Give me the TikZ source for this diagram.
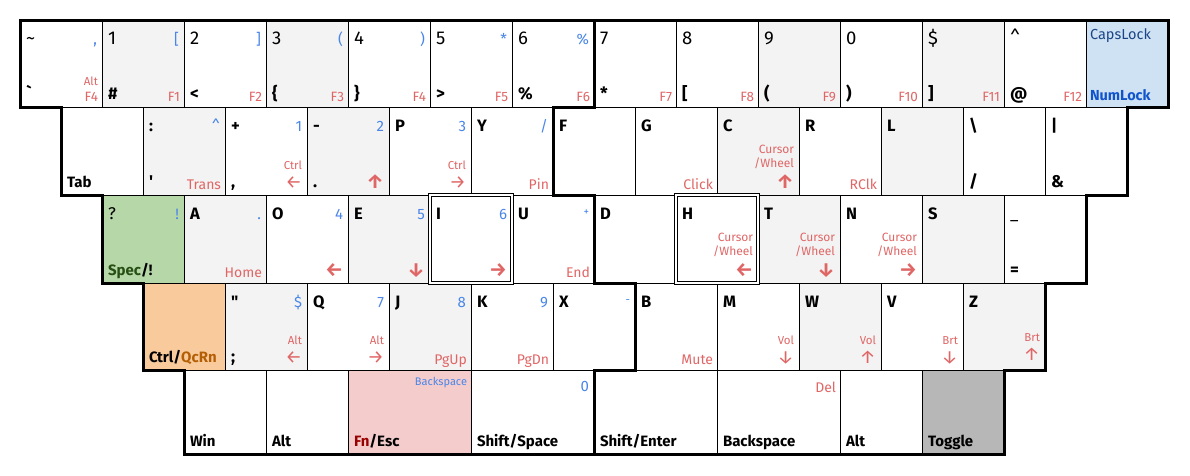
\documentclass[tikz,border=0pt]{standalone}
\usepackage{fontspec}
\setmainfont{Fira Sans}
\usetikzlibrary{calc}
\definecolor{kgray}{HTML}{F3F3F3}
\definecolor{kblue}{HTML}{4A86E8}
\definecolor{kred}{HTML}{E06666}
\definecolor{kcapsfill}{HTML}{CFE2F3}
\definecolor{kcaps}{HTML}{1C4587}
\definecolor{knum}{HTML}{1155CC}
\definecolor{kgreen}{HTML}{B6D7A8}
\definecolor{kspec}{HTML}{274E13}
\definecolor{korange}{HTML}{F9CB9C}
\definecolor{kqc}{HTML}{B45F06}
\definecolor{kpink}{HTML}{F4CCCC}
\definecolor{kfn}{HTML}{990000}
\definecolor{ktog}{HTML}{B7B7B7}
\newcommand\kfs[1]{\fontsize{#1}{#1}\selectfont}
\tikzset{
  key/.style={draw=black,line width=1pt,anchor=north west,outer sep=0pt,inner sep=0pt},
  gk/.style={fill=kgray},
  lbl/.style={inner sep=0pt,outer sep=0pt},
  num/.style={font=\kfs{18.5}},
  let/.style={font=\bfseries\kfs{16.5}},
  sym/.style={font=\bfseries\kfs{17}},
  sec/.style={text=kblue,font=\kfs{15}},
  secs/.style={text=kblue,font=\kfs{11}},
  fk/.style={text=kred,font=\kfs{13.5}},
  wd/.style={text=kred,font=\kfs{14}},
  sm/.style={text=kred,font=\kfs{11.5}},
  cw/.style={text=kred,font=\kfs{12}},
  arr/.style={text=kred,font=\bfseries\kfs{19.5}},
  arrt/.style={text=kred,font=\kfs{18.5}},
  bot/.style={font=\bfseries\kfs{15}},
  outline/.style={draw=black,line width=3pt,line join=miter},
  homing/.style={draw=black,line width=1pt,double=white,double distance=2.5pt}
}
\newcommand\kK[6]{\node[key,#6,minimum width=#4pt,minimum height=#5pt] (#1) at (#2,#3) {};}
\newcommand\kTL[3][let]{\node[lbl,anchor=base west,#1] (#2tl) at ($(#2.north west)+(6,24)$) {#3};}
\newcommand\kTR[3][sec]{\node[lbl,anchor=base east,#1] (#2tr) at ($(#2.north east)+(-5,24)$) {#3};}
\newcommand\kBL[3][bot]{\node[lbl,anchor=base west,#1] (#2bl) at ($(#2.south west)+(6,-8)$) {#3};}
\newcommand\kBR[3][wd]{\node[lbl,anchor=base east,#1] (#2br) at ($(#2.south east)+(-4,-6)$) {#3};}
\newcommand\kMR[3][sm]{\node[lbl,anchor=base east,#1] (#2mr) at ($(#2.south east)+(-5,-26)$) {#3};}
\newcommand\kAR[3][arr]{\node[lbl,anchor=base east,#1] (#2ar) at ($(#2.south east)+(-5,-7)$) {#3};}
\newcommand\kCW[1]{\node[lbl,anchor=base east,cw] (#1cwa) at ($(#1.south east)+(-5,-42)$) {Cursor};
  \node[lbl,anchor=base east,cw] (#1cwb) at ($(#1.south east)+(-5,-28)$) {/Wheel};}
\begin{document}
\begin{tikzpicture}[x=1pt,y=-1pt]
\useasboundingbox (0,0) rectangle (1190,475);
% ---------- row 1
\kK{a1}{20}{20}{82}{87}{}
\kK{a2}{102}{20}{82}{87}{gk}
\kK{a3}{184}{20}{82}{87}{}
\kK{a4}{266}{20}{82}{87}{gk}
\kK{a5}{348}{20}{82}{87}{}
\kK{a6}{430}{20}{82}{87}{}
\kK{a7}{512}{20}{82}{87}{}
\kK{a8}{594}{20}{82}{87}{}
\kK{a9}{676}{20}{82}{87}{}
\kK{a10}{758}{20}{82}{87}{gk}
\kK{a11}{840}{20}{82}{87}{}
\kK{a12}{922}{20}{82}{87}{gk}
\kK{a13}{1004}{20}{82}{87}{}
\kK{a14}{1086}{20}{82}{87}{fill=kcapsfill}
% ---------- row 2
\kK{b1}{61}{107}{82}{88}{}
\kK{b2}{143}{107}{82}{88}{gk}
\kK{b3}{225}{107}{82}{88}{}
\kK{b4}{307}{107}{82}{88}{gk}
\kK{b5}{389}{107}{82}{88}{}
\kK{b6}{471}{107}{82}{88}{}
\kK{b7}{553}{107}{82}{88}{}
\kK{b8}{635}{107}{82}{88}{}
\kK{b9}{717}{107}{82}{88}{gk}
\kK{b10}{799}{107}{82}{88}{}
\kK{b11}{881}{107}{82}{88}{gk}
\kK{b12}{963}{107}{82}{88}{}
\kK{b13}{1045}{107}{82}{88}{}
% ---------- row 3
\kK{c1}{102}{195}{82}{88}{fill=kgreen}
\kK{c2}{184}{195}{82}{88}{gk}
\kK{c3}{266}{195}{82}{88}{}
\kK{c4}{348}{195}{82}{88}{gk}
\kK{c5}{430}{195}{82}{88}{}
\kK{c6}{512}{195}{82}{88}{}
\kK{c7}{594}{195}{82}{88}{}
\kK{c8}{676}{195}{82}{88}{}
\kK{c9}{758}{195}{82}{88}{gk}
\kK{c10}{840}{195}{82}{88}{}
\kK{c11}{922}{195}{82}{88}{gk}
\kK{c12}{1004}{195}{82}{88}{}
% ---------- row 4
\kK{d1}{143}{283}{82}{87}{fill=korange}
\kK{d2}{225}{283}{82}{87}{gk}
\kK{d3}{307}{283}{82}{87}{}
\kK{d4}{389}{283}{82}{87}{gk}
\kK{d5}{471}{283}{82}{87}{}
\kK{d6}{553}{283}{82}{87}{}
\kK{d7}{635}{283}{82}{87}{}
\kK{d8}{717}{283}{82}{87}{}
\kK{d9}{799}{283}{82}{87}{gk}
\kK{d10}{881}{283}{82}{87}{}
\kK{d11}{963}{283}{82}{87}{gk}
% ---------- row 5
\kK{e1}{184}{370}{82}{84}{}
\kK{e2}{266}{370}{82}{84}{}
\kK{e3}{348}{370}{123}{84}{fill=kpink}
\kK{e4}{471}{370}{123}{84}{}
\kK{e5}{594}{370}{123}{84}{}
\kK{e6}{717}{370}{123}{84}{}
\kK{e7}{840}{370}{82}{84}{}
\kK{e8}{922}{370}{82}{84}{fill=ktog}
% ---------- homing keys
\draw[homing] (c5.north west) rectangle (c5.south east);
\draw[homing] (c8.north west) rectangle (c8.south east);
% ---------- thick outlines
\draw[outline] (a1.north west) -- (a7.north east) -- (a7.south east) -- (b6.north east)
  -- (b6.south east) -- (c6.north east) -- (c6.south east) -- (d6.north east)
  -- (d6.south east) -- (e4.north east) -- (e4.south east) -- (e1.south west)
  -- (e1.north west) -- (d1.south west) -- (d1.north west) -- (c1.south west)
  -- (c1.north west) -- (b1.south west) -- (b1.north west) -- (a1.south west) -- cycle;
\draw[outline] (a8.north west) -- (a14.north east) -- (a14.south east) -- (b13.north east)
  -- (b13.south east) -- (c12.north east) -- (c12.south east) -- (d11.north east)
  -- (d11.south east) -- (e8.north east) -- (e8.south east) -- (e5.south west)
  -- (e5.north west) -- (d7.south west) -- (d7.north west) -- (c7.south west)
  -- (c7.north west) -- (b7.south west) -- (b7.north west) -- (a8.south west) -- cycle;
% ---------- row 1 labels
\kTL[num]{a1}{\textasciitilde}\kTR{a1}{,}\kBL[sym]{a1}{\textasciigrave}
\node[lbl,anchor=base east,sm] (a1alt) at ($(a1.south east)+(-4,-22)$) {Alt};
\kBR[fk]{a1}{F4}
\kTL[num]{a2}{1}\kTR{a2}{[}\kBL[sym]{a2}{\#}\kBR[fk]{a2}{F1}
\kTL[num]{a3}{2}\kTR{a3}{]}\kBL[sym]{a3}{<}\kBR[fk]{a3}{F2}
\kTL[num]{a4}{3}\kTR{a4}{(}\kBL[sym]{a4}{\{}\kBR[fk]{a4}{F3}
\kTL[num]{a5}{4}\kTR{a5}{)}\kBL[sym]{a5}{\}}\kBR[fk]{a5}{F4}
\kTL[num]{a6}{5}\kTR{a6}{*}\kBL[sym]{a6}{>}\kBR[fk]{a6}{F5}
\kTL[num]{a7}{6}\kTR{a7}{\%}\kBL[sym]{a7}{\%}\kBR[fk]{a7}{F6}
\kTL[num]{a8}{7}\kBL[sym]{a8}{*}\kBR[fk]{a8}{F7}
\kTL[num]{a9}{8}\kBL[sym]{a9}{[}\kBR[fk]{a9}{F8}
\kTL[num]{a10}{9}\kBL[sym]{a10}{(}\kBR[fk]{a10}{F9}
\kTL[num]{a11}{0}\kBL[sym]{a11}{)}\kBR[fk]{a11}{F10}
\kTL[num]{a12}{\$}\kBL[sym]{a12}{]}\kBR[fk]{a12}{F11}
\kTL[num]{a13}{\textasciicircum}\kBL[sym]{a13}{@}\kBR[fk]{a13}{F12}
\node[lbl,anchor=base west,text=kcaps,font=\kfs{14.5}] (a14tl) at ($(a14.north west)+(4,19)$) {CapsLock};
\node[lbl,anchor=base west,text=knum,font=\bfseries\kfs{14.5}] (a14bl) at ($(a14.south west)+(4,-7)$) {NumLock};
% ---------- row 2 labels
\kBL{b1}{Tab}
\kTL{b2}{:}\kTR{b2}{\textasciicircum}\kBL[sym]{b2}{\textquotesingle}\kBR{b2}{Trans}
\kTL{b3}{+}\kTR{b3}{1}\kBL[sym]{b3}{,}\kMR{b3}{Ctrl}\kAR[arrt]{b3}{←}
\kTL{b4}{-}\kTR{b4}{2}\kBL[sym]{b4}{.}\kAR{b4}{↑}
\kTL{b5}{P}\kTR{b5}{3}\kMR{b5}{Ctrl}\kAR[arrt]{b5}{→}
\kTL{b6}{Y}\kTR{b6}{/}\kBR{b6}{Pin}
\kTL{b7}{F}
\kTL{b8}{G}\kBR{b8}{Click}
\kTL{b9}{C}\kCW{b9}\kAR{b9}{↑}
\kTL{b10}{R}\kBR{b10}{RClk}
\kTL{b11}{L}
\kTL{b12}{\textbackslash}\kBL[sym]{b12}{/}
\kTL{b13}{|}\kBL[sym]{b13}{\&}
% ---------- row 3 labels
\kTL[font=\kfs{17}]{c1}{?}\kTR{c1}{!}\kBL{c1}{\textcolor{kspec}{Spec}/!}
\kTL{c2}{A}\kTR{c2}{.}\kBR{c2}{Home}
\kTL{c3}{O}\kTR{c3}{4}\kAR{c3}{←}
\kTL{c4}{E}\kTR{c4}{5}\kAR{c4}{↓}
\kTL{c5}{I}\kTR{c5}{6}\kAR{c5}{→}
\kTL{c6}{U}\node[lbl,anchor=base east,secs] (c6tr) at ($(c6.north east)+(-5,20)$) {+};\kBR{c6}{End}
\kTL{c7}{D}
\kTL{c8}{H}\kCW{c8}\kAR{c8}{←}
\kTL{c9}{T}\kCW{c9}\kAR{c9}{↓}
\kTL{c10}{N}\kCW{c10}\kAR{c10}{→}
\kTL{c11}{S}
\kTL[font=\kfs{16}]{c12}{\_}\kBL[sym]{c12}{=}
% ---------- row 4 labels
\kBL{d1}{Ctrl/\textcolor{kqc}{QcRn}}
\kTL{d2}{\textquotedbl}\kTR{d2}{\$}\kBL[sym]{d2}{;}\kMR{d2}{Alt}\kAR[arrt]{d2}{←}
\kTL{d3}{Q}\kTR{d3}{7}\kMR{d3}{Alt}\kAR[arrt]{d3}{→}
\kTL{d4}{J}\kTR{d4}{8}\kBR{d4}{PgUp}
\kTL{d5}{K}\kTR{d5}{9}\kBR{d5}{PgDn}
\kTL{d6}{X}\node[lbl,anchor=base east,secs] (d6tr) at ($(d6.north east)+(-5,20)$) {-};
\kTL{d7}{B}\kBR{d7}{Mute}
\kTL{d8}{M}\kMR{d8}{Vol}\kAR[arrt]{d8}{↓}
\kTL{d9}{W}\kMR{d9}{Vol}\kAR[arrt]{d9}{↑}
\kTL{d10}{V}\kMR{d10}{Brt}\kAR[arrt]{d10}{↓}
\kTL{d11}{Z}
\node[lbl,anchor=base east,sm] (d11mr) at ($(d11.south east)+(-5,-29)$) {Brt};
\node[lbl,anchor=base east,arrt] (d11ar) at ($(d11.south east)+(-5,-10)$) {↑};
% ---------- row 5 labels
\kBL{e1}{Win}
\kBL{e2}{Alt}
\node[lbl,anchor=base east,secs] (e3tr) at ($(e3.north east)+(-4,15)$) {Backspace};
\kBL{e3}{\textcolor{kfn}{Fn}/Esc}
\node[lbl,anchor=base east,sec] (e4tr) at ($(e4.north east)+(-5,21)$) {0};
\kBL{e4}{Shift/Space}
\kBL{e5}{Shift/Enter}
\node[lbl,anchor=base east,wd] (e6tr) at ($(e6.north east)+(-4,22)$) {Del};
\kBL{e6}{Backspace}
\kBL{e7}{Alt}
\kBL{e8}{Toggle}
\end{tikzpicture}
\end{document}
